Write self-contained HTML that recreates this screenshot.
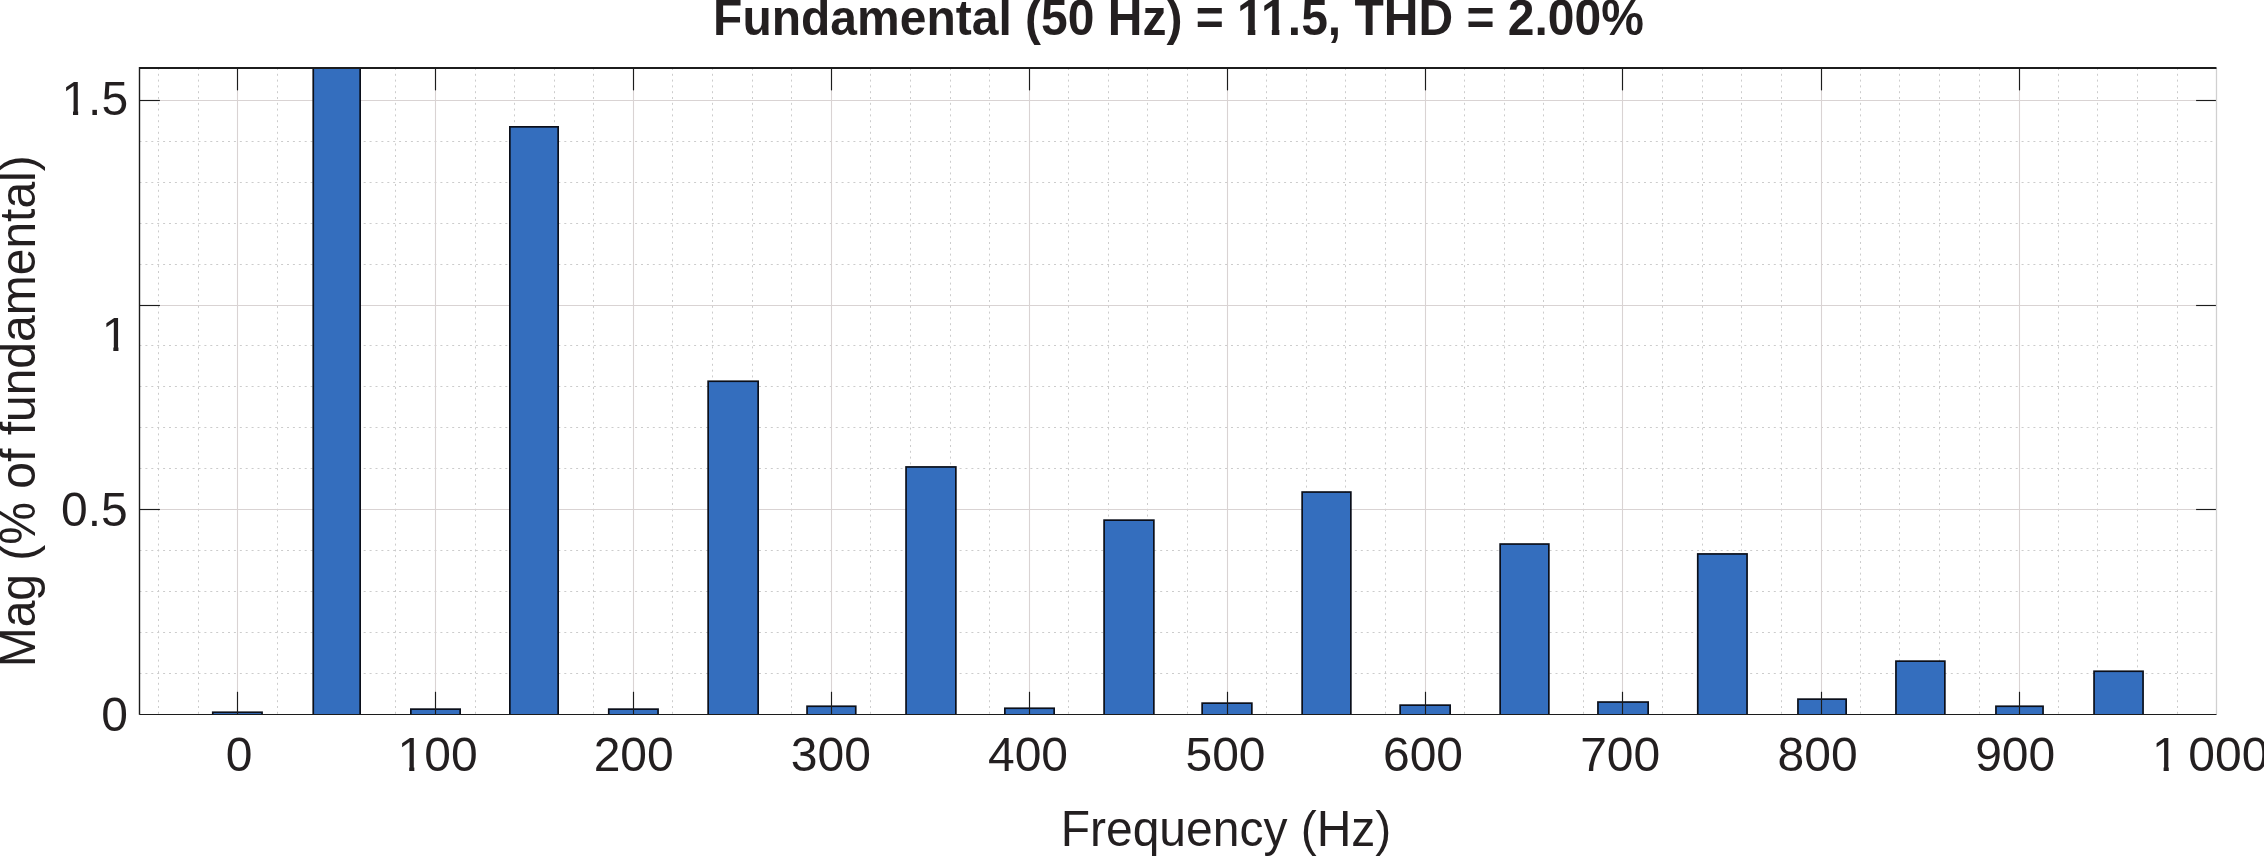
<!DOCTYPE html>
<html><head><meta charset="utf-8"><title>Fundamental (50 Hz) = 11.5, THD = 2.00%</title>
<style>
html,body{margin:0;padding:0;background:#fff;}
body{width:2264px;height:857px;overflow:hidden;}
svg{display:block;}
.mg{stroke:#cccccc;stroke-width:1;stroke-dasharray:2 3.9;fill:none;}
.mgv{stroke-dasharray:2 3.8;}
.Mg{stroke:#d9d3d3;stroke-width:1.1;fill:none;}
.bar{fill:#346EBE;stroke:#0b0f1a;stroke-width:1.7;}
.tk{stroke:#1c1c1c;stroke-width:1.15;}
.lab{font-family:"Liberation Sans",Arial,Helvetica,sans-serif;font-size:48px;fill:#231f20;}
.title{font-family:"Liberation Sans",Arial,Helvetica,sans-serif;font-size:48px;font-weight:bold;fill:#231f20;}
</style></head>
<body>
<svg width="2264" height="857" viewBox="0 0 2264 857">
<defs><clipPath id="axclip"><rect x="139.5" y="68.0" width="2077.0" height="646.2"/></clipPath></defs>
<rect x="0" y="0" width="2264" height="857" fill="#fff"/>
<g id="grid">
<line x1="158.50" y1="68.0" x2="158.50" y2="714.2" class="mg mgv"/>
<line x1="198.50" y1="68.0" x2="198.50" y2="714.2" class="mg mgv"/>
<line x1="277.50" y1="68.0" x2="277.50" y2="714.2" class="mg mgv"/>
<line x1="316.50" y1="68.0" x2="316.50" y2="714.2" class="mg mgv"/>
<line x1="356.50" y1="68.0" x2="356.50" y2="714.2" class="mg mgv"/>
<line x1="395.50" y1="68.0" x2="395.50" y2="714.2" class="mg mgv"/>
<line x1="475.50" y1="68.0" x2="475.50" y2="714.2" class="mg mgv"/>
<line x1="514.50" y1="68.0" x2="514.50" y2="714.2" class="mg mgv"/>
<line x1="554.50" y1="68.0" x2="554.50" y2="714.2" class="mg mgv"/>
<line x1="593.50" y1="68.0" x2="593.50" y2="714.2" class="mg mgv"/>
<line x1="672.50" y1="68.0" x2="672.50" y2="714.2" class="mg mgv"/>
<line x1="712.50" y1="68.0" x2="712.50" y2="714.2" class="mg mgv"/>
<line x1="752.50" y1="68.0" x2="752.50" y2="714.2" class="mg mgv"/>
<line x1="791.50" y1="68.0" x2="791.50" y2="714.2" class="mg mgv"/>
<line x1="870.50" y1="68.0" x2="870.50" y2="714.2" class="mg mgv"/>
<line x1="910.50" y1="68.0" x2="910.50" y2="714.2" class="mg mgv"/>
<line x1="950.50" y1="68.0" x2="950.50" y2="714.2" class="mg mgv"/>
<line x1="989.50" y1="68.0" x2="989.50" y2="714.2" class="mg mgv"/>
<line x1="1068.50" y1="68.0" x2="1068.50" y2="714.2" class="mg mgv"/>
<line x1="1108.50" y1="68.0" x2="1108.50" y2="714.2" class="mg mgv"/>
<line x1="1147.50" y1="68.0" x2="1147.50" y2="714.2" class="mg mgv"/>
<line x1="1187.50" y1="68.0" x2="1187.50" y2="714.2" class="mg mgv"/>
<line x1="1266.50" y1="68.0" x2="1266.50" y2="714.2" class="mg mgv"/>
<line x1="1306.50" y1="68.0" x2="1306.50" y2="714.2" class="mg mgv"/>
<line x1="1345.50" y1="68.0" x2="1345.50" y2="714.2" class="mg mgv"/>
<line x1="1385.50" y1="68.0" x2="1385.50" y2="714.2" class="mg mgv"/>
<line x1="1464.50" y1="68.0" x2="1464.50" y2="714.2" class="mg mgv"/>
<line x1="1504.50" y1="68.0" x2="1504.50" y2="714.2" class="mg mgv"/>
<line x1="1543.50" y1="68.0" x2="1543.50" y2="714.2" class="mg mgv"/>
<line x1="1583.50" y1="68.0" x2="1583.50" y2="714.2" class="mg mgv"/>
<line x1="1662.50" y1="68.0" x2="1662.50" y2="714.2" class="mg mgv"/>
<line x1="1702.50" y1="68.0" x2="1702.50" y2="714.2" class="mg mgv"/>
<line x1="1741.50" y1="68.0" x2="1741.50" y2="714.2" class="mg mgv"/>
<line x1="1781.50" y1="68.0" x2="1781.50" y2="714.2" class="mg mgv"/>
<line x1="1860.50" y1="68.0" x2="1860.50" y2="714.2" class="mg mgv"/>
<line x1="1899.50" y1="68.0" x2="1899.50" y2="714.2" class="mg mgv"/>
<line x1="1939.50" y1="68.0" x2="1939.50" y2="714.2" class="mg mgv"/>
<line x1="1979.50" y1="68.0" x2="1979.50" y2="714.2" class="mg mgv"/>
<line x1="2058.50" y1="68.0" x2="2058.50" y2="714.2" class="mg mgv"/>
<line x1="2097.50" y1="68.0" x2="2097.50" y2="714.2" class="mg mgv"/>
<line x1="2137.50" y1="68.0" x2="2137.50" y2="714.2" class="mg mgv"/>
<line x1="2177.50" y1="68.0" x2="2177.50" y2="714.2" class="mg mgv"/>
<line x1="139.5" y1="673.50" x2="2216.5" y2="673.50" class="mg"/>
<line x1="139.5" y1="632.50" x2="2216.5" y2="632.50" class="mg"/>
<line x1="139.5" y1="591.50" x2="2216.5" y2="591.50" class="mg"/>
<line x1="139.5" y1="550.50" x2="2216.5" y2="550.50" class="mg"/>
<line x1="139.5" y1="468.50" x2="2216.5" y2="468.50" class="mg"/>
<line x1="139.5" y1="427.50" x2="2216.5" y2="427.50" class="mg"/>
<line x1="139.5" y1="386.50" x2="2216.5" y2="386.50" class="mg"/>
<line x1="139.5" y1="345.50" x2="2216.5" y2="345.50" class="mg"/>
<line x1="139.5" y1="264.50" x2="2216.5" y2="264.50" class="mg"/>
<line x1="139.5" y1="223.50" x2="2216.5" y2="223.50" class="mg"/>
<line x1="139.5" y1="182.50" x2="2216.5" y2="182.50" class="mg"/>
<line x1="139.5" y1="141.50" x2="2216.5" y2="141.50" class="mg"/>
<line x1="237.50" y1="68.0" x2="237.50" y2="714.2" class="Mg"/>
<line x1="435.50" y1="68.0" x2="435.50" y2="714.2" class="Mg"/>
<line x1="633.50" y1="68.0" x2="633.50" y2="714.2" class="Mg"/>
<line x1="831.50" y1="68.0" x2="831.50" y2="714.2" class="Mg"/>
<line x1="1029.50" y1="68.0" x2="1029.50" y2="714.2" class="Mg"/>
<line x1="1227.50" y1="68.0" x2="1227.50" y2="714.2" class="Mg"/>
<line x1="1425.50" y1="68.0" x2="1425.50" y2="714.2" class="Mg"/>
<line x1="1622.50" y1="68.0" x2="1622.50" y2="714.2" class="Mg"/>
<line x1="1821.50" y1="68.0" x2="1821.50" y2="714.2" class="Mg"/>
<line x1="2019.50" y1="68.0" x2="2019.50" y2="714.2" class="Mg"/>
<line x1="2216.50" y1="68.0" x2="2216.50" y2="714.2" class="Mg"/>
<line x1="139.5" y1="509.50" x2="2216.5" y2="509.50" class="Mg"/>
<line x1="139.5" y1="305.50" x2="2216.5" y2="305.50" class="Mg"/>
<line x1="139.5" y1="100.50" x2="2216.5" y2="100.50" class="Mg"/>
</g>
<g id="bars" clip-path="url(#axclip)">
<rect x="212.75" y="712.25" width="49.30" height="4.95" class="bar"/>
<rect x="313.25" y="65.00" width="46.90" height="652.20" class="bar"/>
<rect x="410.85" y="709.15" width="49.30" height="8.05" class="bar"/>
<rect x="509.85" y="126.85" width="48.30" height="590.35" class="bar"/>
<rect x="608.75" y="709.15" width="49.30" height="8.05" class="bar"/>
<rect x="708.15" y="381.25" width="50.00" height="335.95" class="bar"/>
<rect x="807.05" y="706.25" width="48.70" height="10.95" class="bar"/>
<rect x="906.05" y="466.95" width="49.80" height="250.25" class="bar"/>
<rect x="1004.85" y="708.25" width="49.30" height="8.95" class="bar"/>
<rect x="1104.10" y="520.15" width="49.75" height="197.05" class="bar"/>
<rect x="1202.15" y="703.15" width="49.70" height="14.05" class="bar"/>
<rect x="1302.15" y="492.05" width="48.70" height="225.15" class="bar"/>
<rect x="1400.15" y="705.15" width="50.00" height="12.05" class="bar"/>
<rect x="1500.15" y="544.05" width="48.70" height="173.15" class="bar"/>
<rect x="1597.95" y="702.05" width="50.20" height="15.15" class="bar"/>
<rect x="1697.75" y="553.95" width="49.30" height="163.25" class="bar"/>
<rect x="1797.95" y="699.15" width="48.20" height="18.05" class="bar"/>
<rect x="1895.95" y="661.15" width="48.90" height="56.05" class="bar"/>
<rect x="1995.95" y="706.25" width="47.10" height="10.95" class="bar"/>
<rect x="2094.05" y="671.25" width="49.00" height="45.95" class="bar"/>
</g>
<g id="ticks">
<line x1="237.50" y1="714.2" x2="237.50" y2="691.8000000000001" class="tk"/>
<line x1="237.50" y1="68.0" x2="237.50" y2="90.4" class="tk"/>
<line x1="435.50" y1="714.2" x2="435.50" y2="691.8000000000001" class="tk"/>
<line x1="435.50" y1="68.0" x2="435.50" y2="90.4" class="tk"/>
<line x1="633.50" y1="714.2" x2="633.50" y2="691.8000000000001" class="tk"/>
<line x1="633.50" y1="68.0" x2="633.50" y2="90.4" class="tk"/>
<line x1="831.50" y1="714.2" x2="831.50" y2="691.8000000000001" class="tk"/>
<line x1="831.50" y1="68.0" x2="831.50" y2="90.4" class="tk"/>
<line x1="1029.50" y1="714.2" x2="1029.50" y2="691.8000000000001" class="tk"/>
<line x1="1029.50" y1="68.0" x2="1029.50" y2="90.4" class="tk"/>
<line x1="1227.50" y1="714.2" x2="1227.50" y2="691.8000000000001" class="tk"/>
<line x1="1227.50" y1="68.0" x2="1227.50" y2="90.4" class="tk"/>
<line x1="1425.50" y1="714.2" x2="1425.50" y2="691.8000000000001" class="tk"/>
<line x1="1425.50" y1="68.0" x2="1425.50" y2="90.4" class="tk"/>
<line x1="1622.50" y1="714.2" x2="1622.50" y2="691.8000000000001" class="tk"/>
<line x1="1622.50" y1="68.0" x2="1622.50" y2="90.4" class="tk"/>
<line x1="1821.50" y1="714.2" x2="1821.50" y2="691.8000000000001" class="tk"/>
<line x1="1821.50" y1="68.0" x2="1821.50" y2="90.4" class="tk"/>
<line x1="2019.50" y1="714.2" x2="2019.50" y2="691.8000000000001" class="tk"/>
<line x1="2019.50" y1="68.0" x2="2019.50" y2="90.4" class="tk"/>
<line x1="139.5" y1="509.50" x2="159.9" y2="509.50" class="tk"/>
<line x1="2216.5" y1="509.50" x2="2196.1" y2="509.50" class="tk"/>
<line x1="139.5" y1="305.50" x2="159.9" y2="305.50" class="tk"/>
<line x1="2216.5" y1="305.50" x2="2196.1" y2="305.50" class="tk"/>
<line x1="139.5" y1="100.50" x2="159.9" y2="100.50" class="tk"/>
<line x1="2216.5" y1="100.50" x2="2196.1" y2="100.50" class="tk"/>
</g>
<line x1="2216.5" y1="68.0" x2="2216.5" y2="714.2" stroke="#d0d0d0" stroke-width="1.2"/>
<line x1="139.5" y1="68.0" x2="2216.5" y2="68.0" stroke="#1c1c1c" stroke-width="2"/>
<line x1="139.5" y1="714.5" x2="2216.5" y2="714.5" stroke="#1c1c1c" stroke-width="1.1"/>
<line x1="139.5" y1="67.0" x2="139.5" y2="714.8000000000001" stroke="#1c1c1c" stroke-width="1.4"/>
<g id="text">
<g transform="translate(239.0,770.6) scale(1,1.02)"><text id="x0" x="0" y="0" class="lab" text-anchor="middle">0</text></g>
<g transform="translate(437.6,770.6) scale(1,1.02)"><text id="x100" x="0" y="0" class="lab" text-anchor="middle">100</text><rect x="-37.98" y="-4.39" width="9.56" height="5.59" fill="#fff"/><rect x="-23.27" y="-4.39" width="9.09" height="5.59" fill="#fff"/></g>
<g transform="translate(633.7,770.6) scale(1,1.02)"><text id="x200" x="0" y="0" class="lab" text-anchor="middle">200</text></g>
<g transform="translate(830.8,770.6) scale(1,1.02)"><text id="x300" x="0" y="0" class="lab" text-anchor="middle">300</text></g>
<g transform="translate(1028.0,770.6) scale(1,1.02)"><text id="x400" x="0" y="0" class="lab" text-anchor="middle">400</text></g>
<g transform="translate(1225.5,770.6) scale(1,1.02)"><text id="x500" x="0" y="0" class="lab" text-anchor="middle">500</text></g>
<g transform="translate(1423.0,770.6) scale(1,1.02)"><text id="x600" x="0" y="0" class="lab" text-anchor="middle">600</text></g>
<g transform="translate(1620.2,770.6) scale(1,1.02)"><text id="x700" x="0" y="0" class="lab" text-anchor="middle">700</text></g>
<g transform="translate(1817.6,770.6) scale(1,1.02)"><text id="x800" x="0" y="0" class="lab" text-anchor="middle">800</text></g>
<g transform="translate(2015.2,770.6) scale(1,1.02)"><text id="x900" x="0" y="0" class="lab" text-anchor="middle">900</text></g>
<g transform="translate(2152,770.6) scale(1,1.02)"><text id="x1000" x="0" y="0" class="lab" text-anchor="start">1&#8201;000</text><rect x="2.06" y="-4.39" width="9.56" height="5.59" fill="#fff"/><rect x="16.76" y="-4.39" width="9.09" height="5.59" fill="#fff"/></g>
<g transform="translate(128.1,115.0) scale(1,1.02)"><text id="y15" x="0" y="0" class="lab" text-anchor="end">1.5</text><rect x="-64.66" y="-4.39" width="9.56" height="5.59" fill="#fff"/><rect x="-49.96" y="-4.39" width="9.09" height="5.59" fill="#fff"/></g>
<g transform="translate(128.4,350.7) scale(1,1.02)"><text id="y10" x="0" y="0" class="lab" text-anchor="end">1</text><rect x="-24.64" y="-4.39" width="9.56" height="5.59" fill="#fff"/><rect x="-9.94" y="-4.39" width="9.09" height="5.59" fill="#fff"/></g>
<g transform="translate(127.8,525.6) scale(1,1.02)"><text id="y05" x="0" y="0" class="lab" text-anchor="end">0.5</text></g>
<g transform="translate(128.0,730.6) scale(1,1.02)"><text id="y00" x="0" y="0" class="lab" text-anchor="end">0</text></g>
<g transform="translate(1178.5,35.3) scale(1,1.03)"><text id="title" x="0" y="0" class="title" text-anchor="middle">Fundamental (50 Hz) = 11.5, THD = 2.00%</text><rect x="59.99" y="-5.70" width="9.33" height="6.90" fill="#fff"/><rect x="76.81" y="-5.70" width="8.62" height="6.90" fill="#fff"/><rect x="84.03" y="-5.70" width="9.33" height="6.90" fill="#fff"/><rect x="100.85" y="-5.70" width="8.62" height="6.90" fill="#fff"/></g>
<g transform="translate(1226,846.2) scale(1,1.05)"><text id="xlab" x="0" y="0" class="lab" text-anchor="middle">Frequency (Hz)</text></g>
<g transform="translate(35.3,411.3) rotate(-90) scale(1,1.035)"><text id="ylab" x="0" y="0" class="lab" text-anchor="middle">Mag (% of fundamental)</text></g>
</g>
</svg>
</body></html>
